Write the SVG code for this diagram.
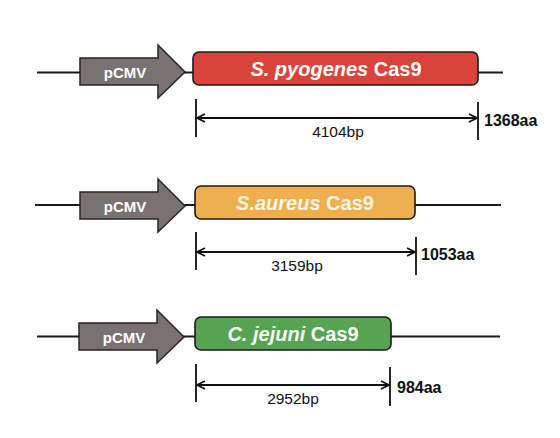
<svg xmlns="http://www.w3.org/2000/svg" width="560" height="438" viewBox="0 0 560 438">
<defs>
<marker id="ah" viewBox="0 0 10 10" refX="9" refY="5" markerWidth="10" markerHeight="10" markerUnits="userSpaceOnUse" orient="auto-start-reverse">
<path d="M1,1 L9,5 L1,9" fill="none" stroke="#111" stroke-width="1.7"/>
</marker>
<path id="prom" d="M0,-14 L78,-14 L78,-27 L105,0 L78,26 L78,13 L0,13 Z"/>
</defs>
<style>
.bb{stroke:#1a1a1a;stroke-width:1.8;fill:none}
.prom{fill:#7a7272;stroke:#2a2424;stroke-width:1.5}
.box{stroke:#1a1a1a;stroke-width:1.6}
.pt{font-family:"Liberation Sans",Arial,sans-serif;font-weight:bold;font-size:15px;fill:#fff;text-anchor:middle}
.gt{font-family:"Liberation Sans",Arial,sans-serif;font-weight:bold;font-size:20px;fill:#fff;text-anchor:middle}
.dim{stroke:#111;stroke-width:1.8;fill:none}
.bp{font-family:"Liberation Sans",Arial,sans-serif;font-size:15.5px;fill:#111;text-anchor:middle}
.aa{font-family:"Liberation Sans",Arial,sans-serif;font-weight:bold;font-size:16px;fill:#111}
</style>
<g id="connectors">
<line class="bb" x1="37" y1="72.5" x2="503" y2="72.5"/>
<line class="bb" x1="35" y1="205" x2="501" y2="205"/>
<line class="bb" x1="37" y1="336.5" x2="500" y2="336.5"/>
<line class="dim" x1="196" y1="99" x2="196" y2="137"/>
<line class="dim" x1="478" y1="102" x2="478" y2="140"/>
<line class="dim" x1="197" y1="118" x2="477" y2="118" marker-start="url(#ah)" marker-end="url(#ah)"/>
<line class="dim" x1="196" y1="232" x2="196" y2="270"/>
<line class="dim" x1="416" y1="237" x2="416" y2="275"/>
<line class="dim" x1="197" y1="252" x2="415" y2="252" marker-start="url(#ah)" marker-end="url(#ah)"/>
<line class="dim" x1="196" y1="364" x2="196" y2="402"/>
<line class="dim" x1="390" y1="367" x2="390" y2="406"/>
<line class="dim" x1="197" y1="385" x2="389" y2="385" marker-start="url(#ah)" marker-end="url(#ah)"/>
</g>
<g id="pcmv1">
<use href="#prom" class="prom" x="80" y="72"/>
<text class="pt" x="125" y="77.5">pCMV</text>
</g>
<g id="spy">
<rect class="box" x="193" y="52" width="285" height="33" rx="6" fill="#d9443a"/>
<text class="gt" x="336" y="76"><tspan font-style="italic">S. pyogenes</tspan> Cas9</text>
</g>
<g id="spy-dim">
<text class="bp" x="338" y="137">4104bp</text>
<text class="aa" x="484" y="126">1368aa</text>
</g>
<g id="pcmv2">
<use href="#prom" class="prom" x="80" y="206"/>
<text class="pt" x="125" y="211.5">pCMV</text>
</g>
<g id="sau">
<rect class="box" x="195" y="186" width="220" height="33" rx="6" fill="#eeb04f"/>
<text class="gt" x="305" y="210" style="fill:#fdf6e6"><tspan font-style="italic">S.aureus</tspan> Cas9</text>
</g>
<g id="sau-dim">
<text class="bp" x="297" y="271">3159bp</text>
<text class="aa" x="421" y="260">1053aa</text>
</g>
<g id="pcmv3">
<use href="#prom" class="prom" x="79" y="337"/>
<text class="pt" x="124" y="342.5">pCMV</text>
</g>
<g id="cje">
<rect class="box" x="195" y="317" width="196" height="33" rx="6" fill="#56a452"/>
<text class="gt" x="293" y="341"><tspan font-style="italic">C. jejuni</tspan> Cas9</text>
</g>
<g id="cje-dim">
<text class="bp" x="293" y="404">2952bp</text>
<text class="aa" x="397" y="393">984aa</text>
</g>
</svg>
